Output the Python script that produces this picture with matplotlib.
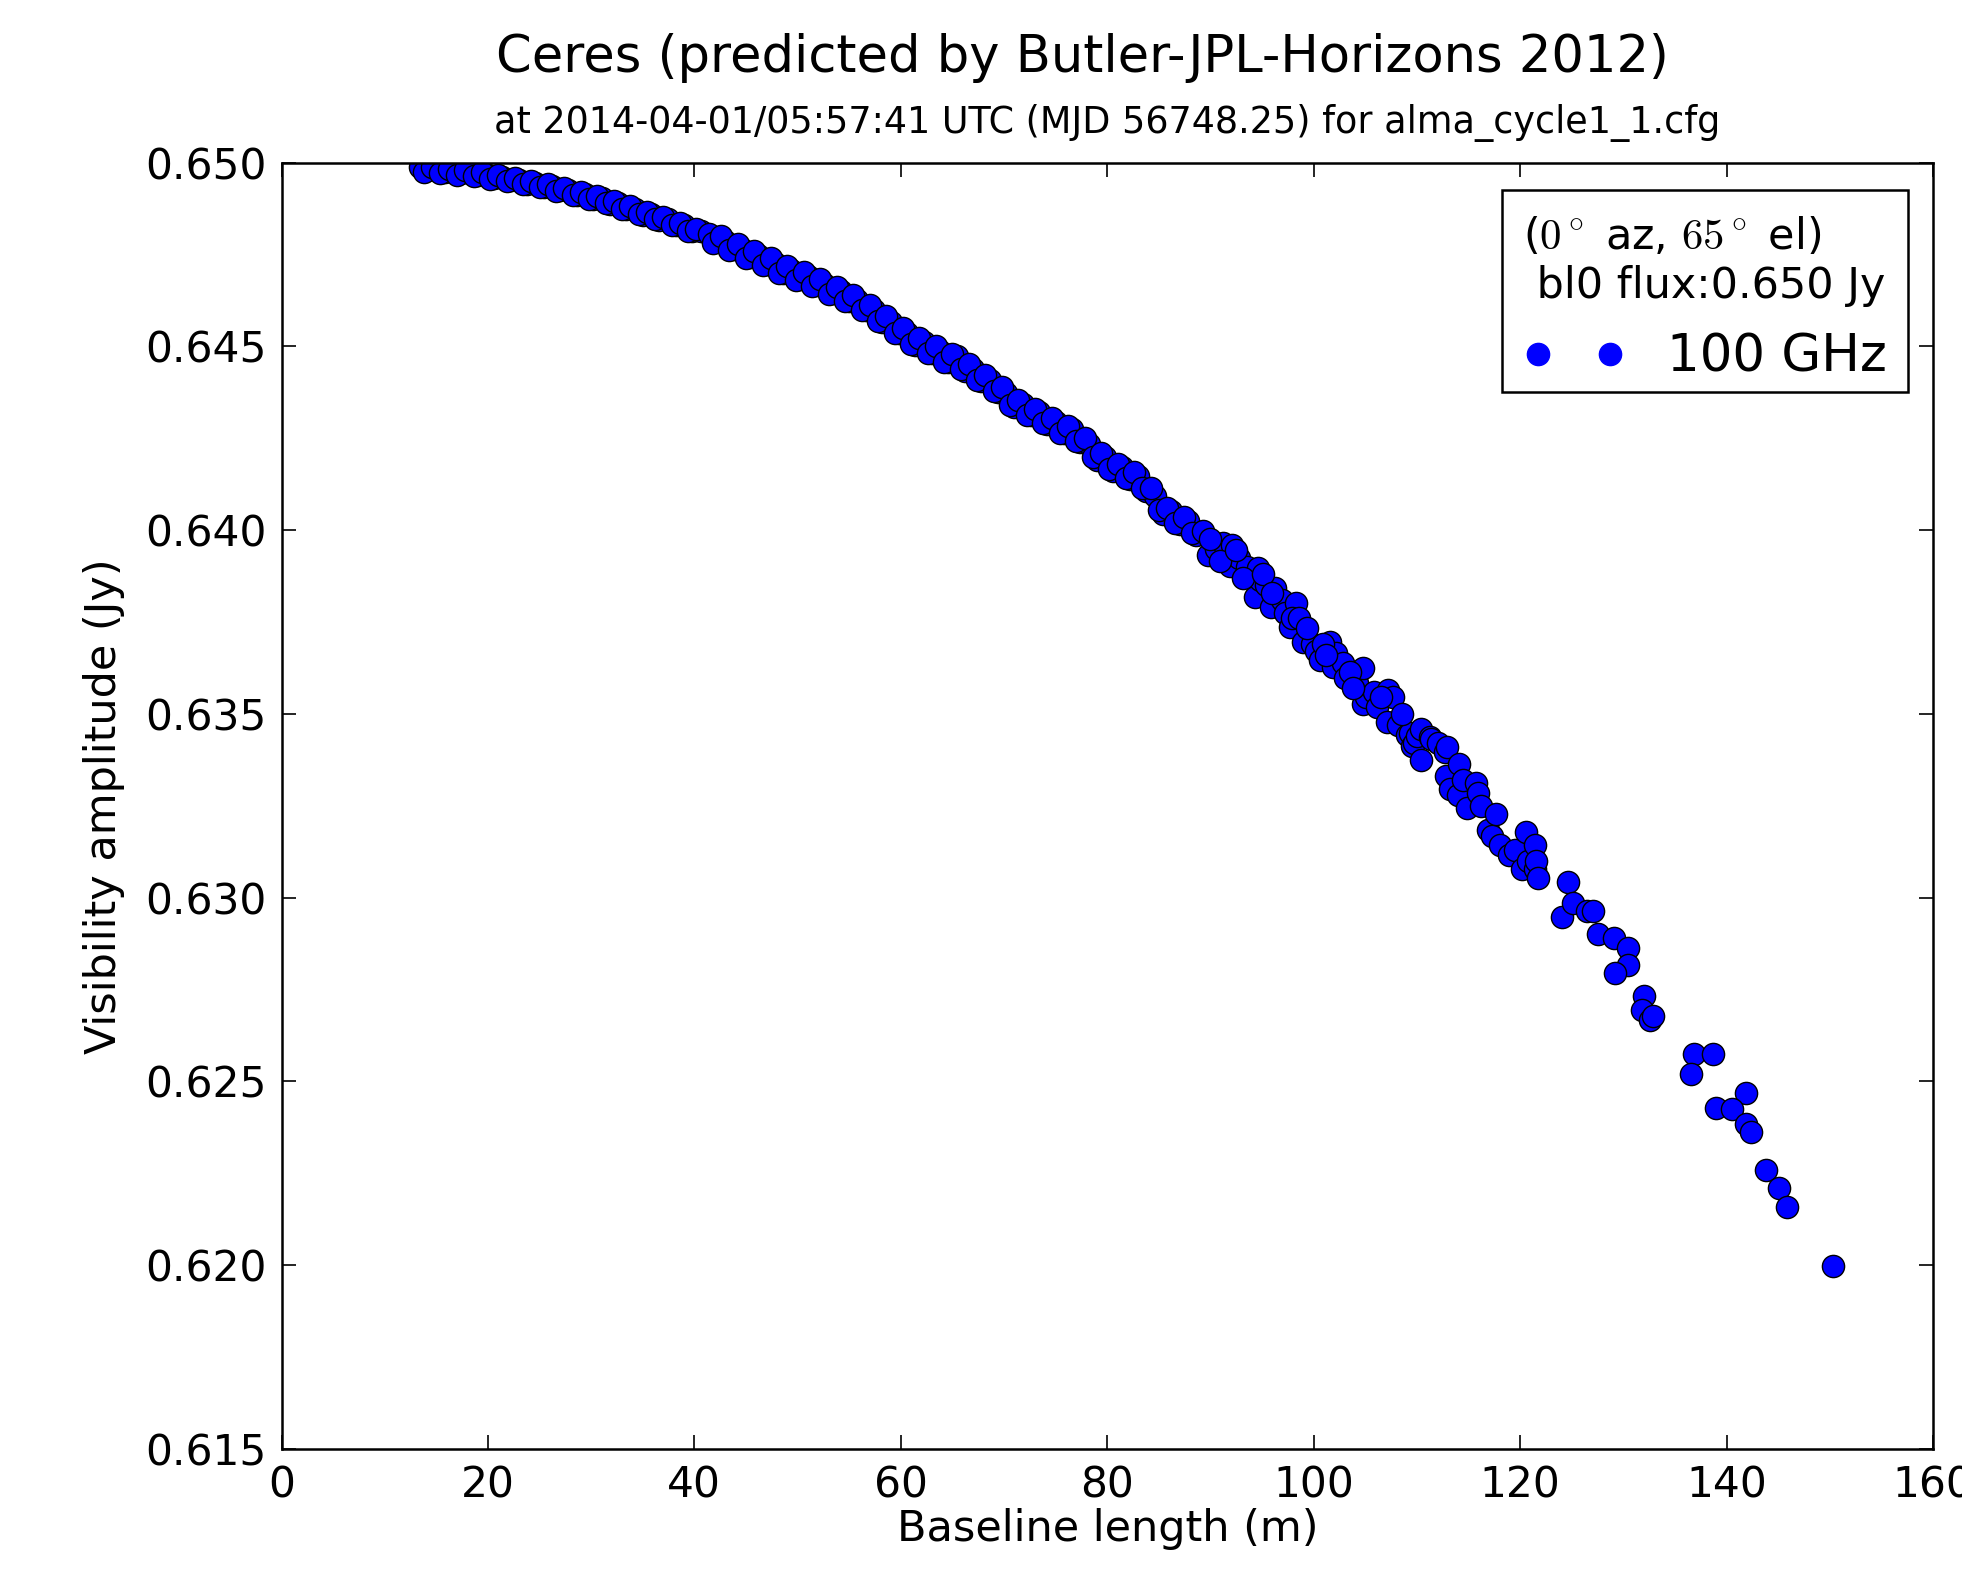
import matplotlib
matplotlib.use("Agg")
import matplotlib.pyplot as plt
from matplotlib.lines import Line2D
from matplotlib.patches import Rectangle

# values, split by baseline range
short_bl = [13.4, 14.2, 15.0, 15.8, 16.6, 17.4, 18.2, 19.0, 19.8, 20.6, 21.4, 22.2,
            23.0, 23.8, 24.6, 25.4, 26.2, 27.0, 27.8, 28.6, 29.4, 30.2, 31.0, 31.8,
            32.6, 33.4, 34.2, 35.0, 35.8, 36.6, 37.4, 38.2, 39.0, 39.8, 40.6]
short_amp = [0.64988, 0.64979, 0.64982, 0.64975, 0.64979, 0.64971, 0.64975, 0.64966,
             0.64969, 0.64959, 0.64962, 0.64952, 0.64954, 0.64943, 0.64946, 0.64935,
             0.64937, 0.64925, 0.64927, 0.64912, 0.64914, 0.64901, 0.64904, 0.64889,
             0.64890, 0.64874, 0.64875, 0.64859, 0.64861, 0.64845, 0.64847, 0.64830,
             0.64830, 0.64813, 0.64814]

# second row of short baselines (the band is about two markers thick)
short2_bl = [13.8, 14.6, 15.4, 16.2, 17.0, 17.8, 18.6, 19.4, 20.2, 21.0, 21.8, 22.6,
             23.4, 24.2, 25.0, 25.8, 26.6, 27.4, 28.2, 29.0, 29.8, 30.6, 31.4, 32.2,
             33.0, 33.8, 34.6, 35.4, 36.2, 37.0, 37.8, 38.6, 39.4, 40.2]
short2_amp = [0.64976, 0.64988, 0.64971, 0.64984, 0.64968, 0.64980, 0.64963, 0.64974,
              0.64957, 0.64967, 0.64949, 0.64959, 0.64941, 0.64951, 0.64933, 0.64943,
              0.64924, 0.64932, 0.64912, 0.64920, 0.64901, 0.64910, 0.64890, 0.64896,
              0.64874, 0.64881, 0.64860, 0.64867, 0.64846, 0.64853, 0.64831, 0.64837,
              0.64814, 0.64820]

mid_bl = [41.4, 42.2, 43.0, 43.8, 44.6, 45.4, 46.2, 47.0, 47.8, 48.6, 49.4, 50.2,
          51.0, 51.8, 52.6, 53.4, 54.2, 55.0, 55.8, 56.6, 57.4, 58.2, 59.0, 59.8,
          60.6, 61.4, 62.2, 63.0, 63.8, 64.6, 65.4, 66.2, 67.0, 67.8, 68.6, 69.4,
          70.2, 71.0, 71.8, 72.6, 73.4, 74.2, 75.0, 75.8, 76.6, 77.4, 78.2, 79.0,
          79.8, 80.6, 81.4, 82.2, 83.0, 83.8, 84.6, 85.4, 86.2, 87.0, 87.8, 88.6]
mid_amp = [0.64806, 0.64786, 0.64788, 0.64764, 0.64766, 0.64744, 0.64749, 0.64725,
           0.64728, 0.64701, 0.64707, 0.64684, 0.64691, 0.64666, 0.64671, 0.64646,
           0.64650, 0.64624, 0.64627, 0.64598, 0.64600, 0.64568, 0.64568, 0.64536,
           0.64536, 0.64505, 0.64511, 0.64483, 0.64488, 0.64458, 0.64474, 0.64434,
           0.64439, 0.64407, 0.64410, 0.64376, 0.64374, 0.64336, 0.64343, 0.64313,
           0.64321, 0.64289, 0.64294, 0.64264, 0.64275, 0.64241, 0.64235, 0.64192,
           0.64200, 0.64161, 0.64172, 0.64139, 0.64148, 0.64108, 0.64092, 0.64043,
           0.64051, 0.64018, 0.64026, 0.63986]

mid2_bl = [41.8, 42.6, 43.4, 44.2, 45.0, 45.8, 46.6, 47.4, 48.2, 49.0, 49.8, 50.6,
           51.4, 52.2, 53.0, 53.8, 54.6, 55.4, 56.2, 57.0, 57.8, 58.6, 59.4, 60.2,
           61.0, 61.8, 62.6, 63.4, 64.2, 65.0, 65.8, 66.6, 67.4, 68.2, 69.0, 69.8,
           70.6, 71.4, 72.2, 73.0, 73.8, 74.6, 75.4, 76.2, 77.0, 77.8, 78.6, 79.4,
           80.2, 81.0, 81.8, 82.6, 83.4, 84.2, 85.0, 85.8, 86.6, 87.4, 88.2]
mid2_amp = [0.64782, 0.64801, 0.64762, 0.64779, 0.64741, 0.64761, 0.64723, 0.64741,
            0.64700, 0.64718, 0.64681, 0.64702, 0.64664, 0.64683, 0.64644, 0.64662,
            0.64623, 0.64640, 0.64598, 0.64613, 0.64570, 0.64582, 0.64538, 0.64550,
            0.64506, 0.64522, 0.64483, 0.64500, 0.64459, 0.64480, 0.64440, 0.64451,
            0.64409, 0.64423, 0.64379, 0.64389, 0.64341, 0.64354, 0.64314, 0.64331,
            0.64291, 0.64306, 0.64265, 0.64284, 0.64244, 0.64252, 0.64200, 0.64210,
            0.64167, 0.64181, 0.64142, 0.64158, 0.64114, 0.64114, 0.64054, 0.64061,
            0.64021, 0.64036, 0.63992]

long_bl = [89.3, 89.8, 90.5, 91.2, 91.9, 92.1, 92.8, 93.5, 94.3, 94.6, 94.8, 95.4,
           95.9, 96.3, 96.9, 97.2, 97.7, 98.3, 99.0, 99.8, 100.2, 100.6, 101.6, 101.9,
           102.2, 102.8, 103.0, 104.2, 104.8, 104.8, 105.1, 105.8, 106.1, 107.1, 107.2,
           107.7, 108.2, 109.0, 109.3, 109.5, 109.7, 110.0, 110.4, 110.4, 111.3, 111.4,
           112.0, 112.7, 112.8, 112.9, 113.2, 114.0, 114.1, 114.5, 114.9, 115.7, 115.9,
           116.2, 116.9, 117.3, 117.7, 118.1, 118.9, 119.5, 120.2, 120.6, 120.8, 121.4,
           121.4, 121.5, 121.7,
           90.0, 90.9, 92.5, 93.2, 95.1, 96.0, 97.9, 98.6, 99.4, 100.9, 101.2, 103.5,
           103.8, 106.5, 108.6]
long_amp = [0.63999, 0.63933, 0.63950, 0.63964, 0.63903, 0.63960, 0.63925, 0.63901,
            0.63819, 0.63896, 0.63865, 0.63850, 0.63792, 0.63842, 0.63810, 0.63775,
            0.63738, 0.63801, 0.63697, 0.63690, 0.63672, 0.63647, 0.63697, 0.63629,
            0.63665, 0.63640, 0.63597, 0.63583, 0.63624, 0.63527, 0.63547, 0.63560,
            0.63520, 0.63479, 0.63565, 0.63547, 0.63470, 0.63442, 0.63447, 0.63414,
            0.63420, 0.63440, 0.63459, 0.63375, 0.63438, 0.63431, 0.63420, 0.63397,
            0.63330, 0.63411, 0.63296, 0.63279, 0.63364, 0.63320, 0.63245, 0.63313,
            0.63285, 0.63250, 0.63183, 0.63167, 0.63228, 0.63144, 0.63116, 0.63130,
            0.63077, 0.63178, 0.63100, 0.63144, 0.63077, 0.63099, 0.63054,
            0.63975, 0.63915, 0.63945, 0.63870, 0.63880, 0.63830, 0.63760, 0.63760,
            0.63735, 0.63690, 0.63660, 0.63615, 0.63570, 0.63545, 0.63500]

outer_bl = [124.6, 124.1, 125.1, 126.5, 127.1, 127.5, 129.1, 130.5, 130.5, 129.2,
            132.0, 131.8, 132.6, 132.9, 136.8, 138.7, 136.6, 141.9, 139.0, 140.5,
            141.9, 142.4, 143.8, 145.1, 145.9, 150.3]
outer_amp = [0.63043, 0.62947, 0.62986, 0.62964, 0.62964, 0.62902, 0.62891, 0.62863,
             0.62818, 0.62795, 0.62733, 0.62694, 0.62666, 0.62677, 0.62576, 0.62576,
             0.62519, 0.62469, 0.62429, 0.62424, 0.62384, 0.62362, 0.62260, 0.62210,
             0.62159, 0.61998]

x_ticks = [0, 20, 40, 60, 80, 100, 120, 140, 160]
y_ticks = [0.615, 0.620, 0.625, 0.630, 0.635, 0.640, 0.645, 0.650]

title = "Ceres (predicted by Butler-JPL-Horizons 2012)"
subtitle = "at 2014-04-01/05:57:41 UTC (MJD 56748.25) for alma_cycle1_1.cfg"
leg_title = r"($0^\circ$ az, $65^\circ$ el)" + "\n bl0 flux:0.650 Jy"
leg_label = "100 GHz"

plt.rcParams["font.family"] = "DejaVu Sans"
plt.rcParams["mathtext.fontset"] = "cm"

fig = plt.figure(figsize=(19.62, 15.77), dpi=100, facecolor="white")
ax = fig.add_axes([0.1435, 0.0812, 0.8417, 0.8156])

bl = short_bl + short2_bl + mid_bl + mid2_bl + long_bl + outer_bl
amp = short_amp + short2_amp + mid_amp + mid2_amp + long_amp + outer_amp
ax.plot(bl, amp, "o", ls="none", ms=16, mfc="blue", mec="black", mew=1.0)

ax.set_xlim(0, 160)
ax.set_ylim(0.615, 0.650)
ax.set_xticks(x_ticks)
ax.set_yticks(y_ticks)
ax.set_yticklabels(["%.3f" % v for v in y_ticks])
ax.tick_params(direction="in", top=True, right=True, length=10, width=1.2,
               labelsize=30.5, pad=11, colors="black")
for sp in ax.spines.values():
    sp.set_linewidth(1.8)

ax.set_xlabel("Baseline length (m)", fontsize=31)
ax.xaxis.label.set_va("center")
ax.xaxis.set_label_coords(0.5, -0.0622)
ax.set_ylabel("Visibility amplitude (Jy)", fontsize=31)
ax.yaxis.label.set_va("center")
ax.yaxis.set_label_coords(-0.1075, 0.5)

fig.text(0.5515, 0.963, title, ha="center", va="center", fontsize=36.8)
fig.text(0.5642, 0.922, subtitle, ha="center", va="center", fontsize=26.3)

# legend box drawn separately so the text can sit where the reference has it
box = Rectangle((0.739, 0.8217), 0.246, 0.1571, transform=ax.transAxes,
                facecolor="white", edgecolor="black", lw=1.8, zorder=4.5)
ax.add_patch(box)

handle = Line2D([], [], marker="o", ls="none", ms=16, mfc="blue", mec="blue")
leg = ax.legend([handle], [leg_label], loc="upper right", numpoints=2, fontsize=37,
                title=leg_title, title_fontsize=30.9, frameon=False,
                bbox_to_anchor=(1.0, 0.9942), borderaxespad=0.5,
                handlelength=2.0, handletextpad=0.8, borderpad=0.4)
leg.get_title().set_multialignment("left")
leg._legend_box.align = "left"

fig.savefig("out.png", dpi=100, facecolor="white")
